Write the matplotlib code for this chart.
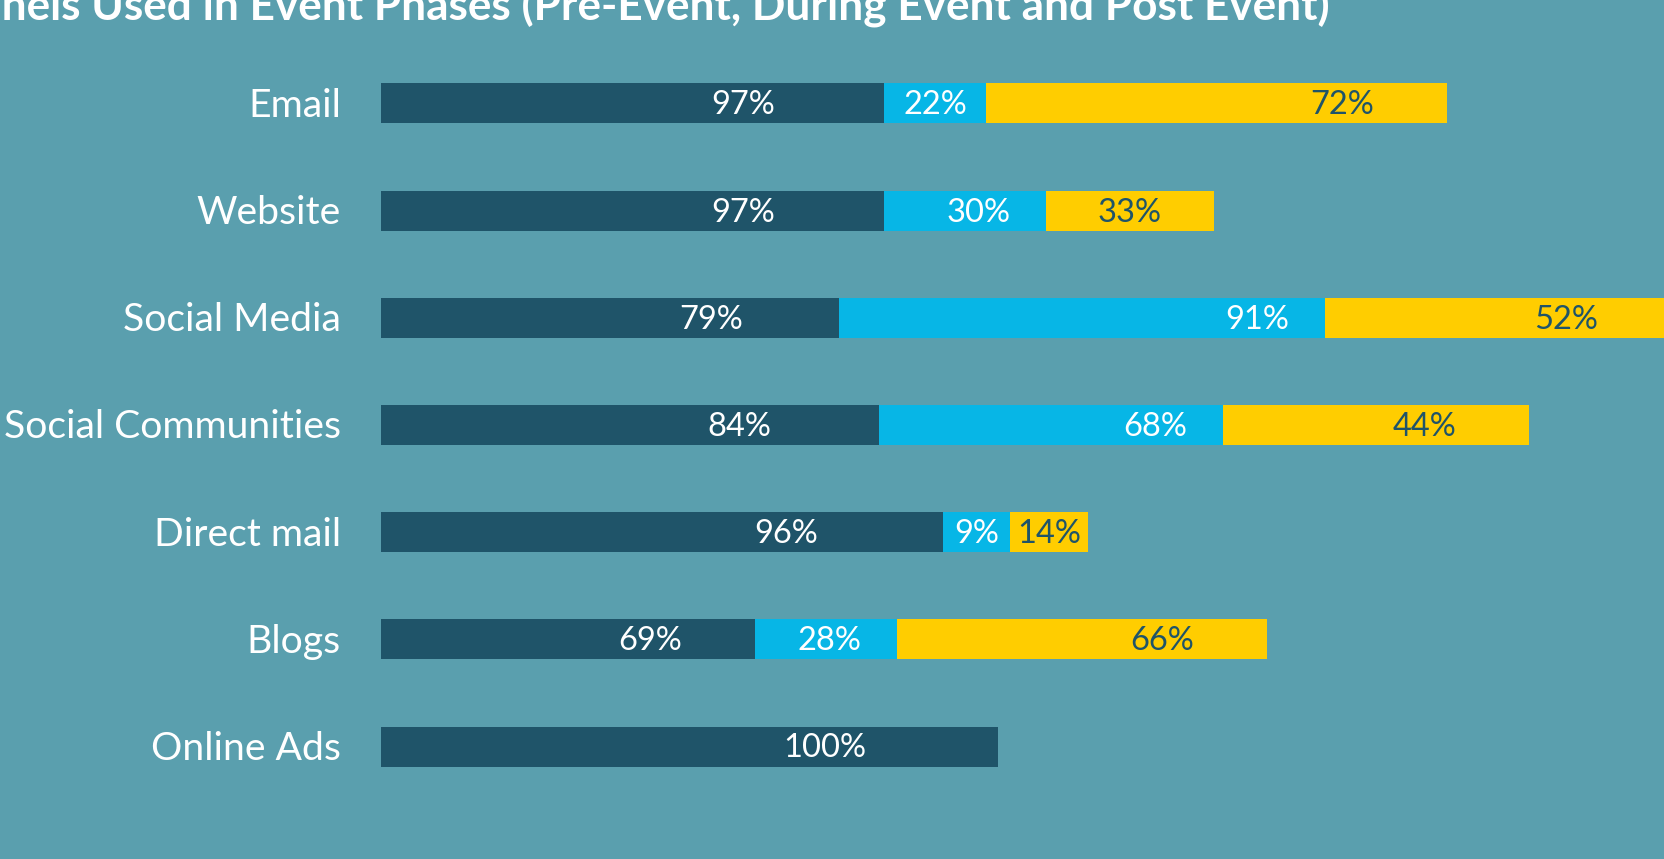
import matplotlib
matplotlib.use('Agg')
import matplotlib.pyplot as plt
import matplotlib.transforms as mtransforms

# ---- data ----
categories = ['Email', 'Website', 'Social Media', 'Social Communities',
              'Direct mail', 'Blogs', 'Online Ads']
# drawn bar lengths (relative units)
pre_len = [81.6, 81.6, 74.2, 80.7, 91.1, 60.6, 100.0]
during_len = [16.5, 26.2, 78.8, 55.8, 10.9, 23.1, 0.0]
post_len = [74.7, 27.2, 56.0, 49.6, 12.6, 59.9, 0.0]
# printed percentages
pre_pct = [97, 97, 79, 84, 96, 69, 100]
during_pct = [22, 30, 91, 68, 9, 28, None]
post_pct = [72, 33, 52, 44, 14, 66, None]
title = 'Channels Used in Event Phases (Pre-Event, During Event and Post Event)'

# ---- style ----
BG = '#5A9FAE'
DARK = '#1F5469'
CYAN = '#07B6E6'
YELLOW = '#FFCD00'
plt.rcParams['font.family'] = ['Lato', 'DejaVu Sans']

W, H = 1665, 859
fig = plt.figure(figsize=(W / 100, H / 100), dpi=100, facecolor=BG)
left_px = 381
ax = fig.add_axes([left_px / W, 0, (W - left_px) / W, 1])
ax.set_facecolor(BG)
px_per_unit = 6.17
ax.set_xlim(0, (W - left_px) / px_per_unit)
row_px = 107.2
first_px = 103.3
ax.set_ylim((H - first_px) / row_px, -first_px / row_px)
ax.axis('off')

y = list(range(len(categories)))
bar_h = 40 / row_px
starts2 = [a for a in pre_len]
starts3 = [a + b for a, b in zip(pre_len, during_len)]
ax.barh(y, pre_len, height=bar_h, color=DARK, linewidth=0)
ax.barh(y, during_len, left=starts2, height=bar_h, color=CYAN, linewidth=0)
ax.barh(y, post_len, left=starts3, height=bar_h, color=YELLOW, linewidth=0)

val_fs = 23.5
val_off = 11.0 / row_px
for i in y:
    # pre-event label
    ax.text(0.72 * pre_len[i], i + val_off, f'{pre_pct[i]}%', ha='center',
            va='baseline', color='white', fontsize=val_fs)
    if during_pct[i] is not None:
        end = starts2[i] + during_len[i]
        cx = end - min(during_len[i] / 2, 11.0)
        ax.text(cx, i + val_off, f'{during_pct[i]}%', ha='center',
                va='baseline', color='white', fontsize=val_fs)
    if post_pct[i] is not None:
        end = starts3[i] + post_len[i]
        cx = end - min(post_len[i] / 2, 17.0)
        ax.text(cx, i + val_off, f'{post_pct[i]}%', ha='center',
                va='baseline', color=DARK, fontsize=val_fs, clip_on=False)

# category labels
trans = mtransforms.offset_copy(
    mtransforms.blended_transform_factory(ax.transAxes, ax.transData),
    fig=fig, x=-40, y=0, units='dots')
cat_off = 13.5 / row_px
for i, c in enumerate(categories):
    ax.text(0, i + cat_off, c, transform=trans, ha='right', va='baseline',
            color='white', fontsize=28.2)

fig.text(1330 / W, 1 - 21 / H, title, ha='right', va='baseline',
         color='white', fontsize=31.8, fontweight='bold')

fig.savefig('out.png', dpi=100, facecolor=BG)
